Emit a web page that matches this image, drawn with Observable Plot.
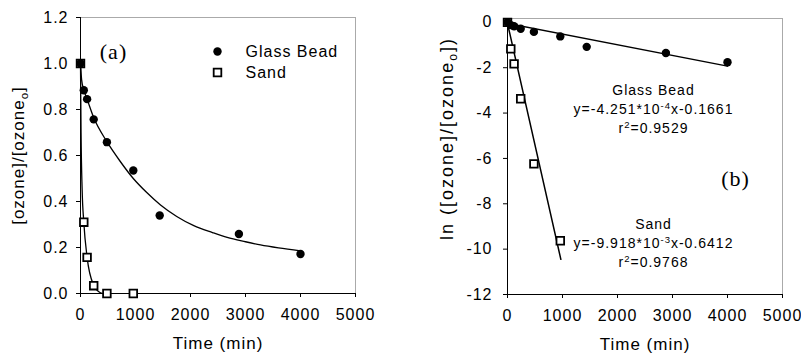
<!DOCTYPE html>
<html><head><meta charset="utf-8">
<script src="https://cdn.jsdelivr.net/npm/d3@7"></script>
<script src="https://cdn.jsdelivr.net/npm/@observablehq/plot@0.6"></script>
<style>
body{margin:0;background:#fff;}
#wrap{position:relative;width:801px;height:354px;overflow:hidden;background:#fff;}
#wrap svg{position:absolute;top:0;overflow:visible;}
</style></head><body><div id="wrap"></div>
<script>
// ---- data ----
const glassTime  = [0, 60, 120, 240, 480, 960, 1440, 2880, 4000];
const glassRatio = [1.0, 0.884, 0.845, 0.757, 0.658, 0.535, 0.339, 0.259, 0.172];
const sandTime   = [0, 60, 120, 240, 480, 960];
const sandRatio  = [1.0, 0.31, 0.157, 0.034, 0.0, 0.0];
const glassLn    = [0, -0.12, -0.17, -0.28, -0.42, -0.62, -1.08, -1.35, -1.76];
const sandLn     = [0, -1.17, -1.83, -3.37, -6.24, -9.63];
const glassCurveTime  = [0, 20, 60, 120, 240, 480, 720, 960, 1200, 1455, 1750, 2060, 2400, 2667, 3000, 3273, 3600, 4000];
const glassCurveRatio = [1.0, 0.93, 0.885, 0.845, 0.765, 0.66, 0.575, 0.50, 0.44, 0.385, 0.335, 0.295, 0.265, 0.244, 0.225, 0.211, 0.198, 0.185];
const sandCurveTime  = [0, 10, 30, 60, 120, 240, 320, 400];
const sandCurveRatio = [1.0, 0.70, 0.45, 0.31, 0.157, 0.035, 0.01, 0.0];
const glassFitTime = [0, 4000];
const glassFitLn   = [-0.05, -1.93];
const sandFitTime  = [0, 970];
const sandFitLn    = [-0.05, -10.45];
const xTicks  = [0, 1000, 2000, 3000, 4000, 5000];
const yTicksA = [0, 0.2, 0.4, 0.6, 0.8, 1.0, 1.2];
const yTicksB = [0, -2, -4, -6, -8, -10, -12];
const legendLabels = ["Glass Bead", "Sand"];
const panelLabels  = ["(a)", "(b)"];
const xTitle  = "Time (min)";
const yTitleA = "[ozone]/[ozone_{o}]";
const yTitleB = "ln ([ozone]/[ozone_{o}])";
const annotGlass = ["Glass Bead", "y=-4.251*10^{-4}x-0.1661", "r^{2}=0.9529"];
const annotSand  = ["Sand", "y=-9.918*10^{-3}x-0.6412", "r^{2}=0.9768"];

// ---- helpers ----
const zip = (xs, ys) => xs.map((x, i) => ({x, y: ys[i]}));
const sans = '"Liberation Sans", Arial, Helvetica, sans-serif';
const serif = '"Liberation Serif", "Times New Roman", serif';

function richText(svg) {
  d3.select(svg).selectAll("text").each(function() {
    const t = this.textContent;
    if (!/[_^]\{/.test(t)) return;
    const el = d3.select(this);
    el.text(null);
    const re = /([_^])\{([^}]*)\}/g;
    let last = 0, m, shift = 0;
    while ((m = re.exec(t)) !== null) {
      if (m.index > last) { el.append("tspan").attr("dy", -shift).text(t.slice(last, m.index)); shift = 0; }
      const d = m[1] === "^" ? -5 : 4;
      el.append("tspan").attr("dy", d - shift).attr("font-size", "0.68em").text(m[2]);
      shift = d;
      last = re.lastIndex;
    }
    if (last < t.length) el.append("tspan").attr("dy", -shift).text(t.slice(last));
  });
}

const common = {
  height: 354,
  style: {fontFamily: sans, fontSize: "16px", color: "#000", background: "transparent", overflow: "visible", letterSpacing: "1px"}
};
const lbl = (s, o) => Plot.text([s], {frameAnchor: "top-left", text: d => d, textAnchor: "middle", lineAnchor: "middle", ...o});

// ---- panel (a) ----
const A = Plot.plot({
  ...common,
  width: 400,
  marginLeft: 80, marginRight: 45, marginTop: 17, marginBottom: 61,
  x: {domain: [0, 5000]},
  y: {domain: [0, 1.2]},
  marks: [
    Plot.frame({stroke: "#aaa", strokeWidth: 1}),
    Plot.axisX({ticks: xTicks, tickSize: 4, tickPadding: 11, label: null, tickFormat: d => String(d)}),
    Plot.axisY({ticks: yTicksA, tickSize: 4, tickPadding: 8, label: null, tickFormat: d3.format(".1f")}),
    Plot.ruleX([0], {stroke: "#000"}),
    Plot.ruleY([0], {stroke: "#000"}),
    Plot.line(zip(glassCurveTime, glassCurveRatio), {x: "x", y: "y", curve: "monotone-x", stroke: "#000", strokeWidth: 1.3}),
    Plot.line(zip(sandCurveTime, sandCurveRatio), {x: "x", y: "y", curve: "monotone-x", stroke: "#000", strokeWidth: 1.3}),
    Plot.dot(zip(sandTime, sandRatio), {x: "x", y: "y", symbol: "square", r: 4.3, fill: "#fff", stroke: "#000", strokeWidth: 1.8}),
    Plot.dot(zip(glassTime, glassRatio), {x: "x", y: "y", r: 4.2, fill: "#000", stroke: "none"}),
    // legend
    Plot.dot([legendLabels[0]], {frameAnchor: "top-left", dx: 137, dy: 34, r: 4.2, fill: "#000", stroke: "none"}),
    Plot.dot([legendLabels[1]], {frameAnchor: "top-left", dx: 137, dy: 55, symbol: "square", r: 4.3, fill: "#fff", stroke: "#000", strokeWidth: 1.8}),
    lbl(legendLabels[0], {dx: 165, dy: 34, textAnchor: "start", fontSize: 16}),
    lbl(legendLabels[1], {dx: 165, dy: 55, textAnchor: "start", fontSize: 16}),
    lbl(panelLabels[0], {dx: 33, dy: 34, fontFamily: serif, fontSize: 22}),
    // titles
    Plot.text([xTitle], {frameAnchor: "bottom", dy: 50, text: d => d, fontSize: 17, lineAnchor: "middle"}),
    Plot.text([yTitleA], {frameAnchor: "left", dx: -62, rotate: -90, text: d => d, fontSize: 17, textAnchor: "middle", lineAnchor: "middle"})
  ]
});

// ---- panel (b) ----
const B = Plot.plot({
  ...common,
  width: 401,
  marginLeft: 107, marginRight: 19, marginTop: 18, marginBottom: 60,
  x: {domain: [0, 5000]},
  y: {domain: [-12, 0.17]},
  marks: [
    Plot.frame({stroke: "#aaa", strokeWidth: 1}),
    Plot.axisX({ticks: xTicks, tickSize: 4, tickPadding: 11, label: null, tickFormat: d => String(d)}),
    Plot.axisY({ticks: yTicksB, tickSize: 4, tickPadding: 11, label: null, tickFormat: d => String(d)}),
    Plot.ruleX([0], {stroke: "#000"}),
    Plot.ruleY([-12], {stroke: "#000"}),
    Plot.line(zip(glassFitTime, glassFitLn), {x: "x", y: "y", stroke: "#000", strokeWidth: 1.5}),
    Plot.line(zip(sandFitTime, sandFitLn), {x: "x", y: "y", stroke: "#000", strokeWidth: 1.5}),
    Plot.dot(zip(sandTime, sandLn), {x: "x", y: "y", symbol: "square", r: 4.3, fill: "#fff", stroke: "#000", strokeWidth: 1.8}),
    Plot.dot(zip(glassTime, glassLn), {x: "x", y: "y", r: 4.2, fill: "#000", stroke: "none"}),
    // annotations
    ...annotGlass.map((s, i) => lbl(s, {dx: 146, dy: 72 + 19 * i, fontSize: 14})),
    ...annotSand.map((s, i) => lbl(s, {dx: 146, dy: 206 + 19 * i, fontSize: 14})),
    lbl(panelLabels[1], {dx: 228, dy: 160, fontFamily: serif, fontSize: 22}),
    // titles
    Plot.text([xTitle], {frameAnchor: "bottom", dy: 50, text: d => d, fontSize: 17, lineAnchor: "middle"}),
    Plot.text([yTitleB], {frameAnchor: "left", dx: -60, dy: -18, rotate: -90, text: d => d, fontSize: 18, textAnchor: "middle", lineAnchor: "middle"})
  ]
});

richText(A); richText(B);
d3.select(B).selectAll("text").filter(function() { return this.textContent.startsWith("ln ("); }).style("letter-spacing", "2px");
A.style.left = "0px";
B.style.left = "400px";
document.getElementById("wrap").append(A, B);
</script>
</body></html>
